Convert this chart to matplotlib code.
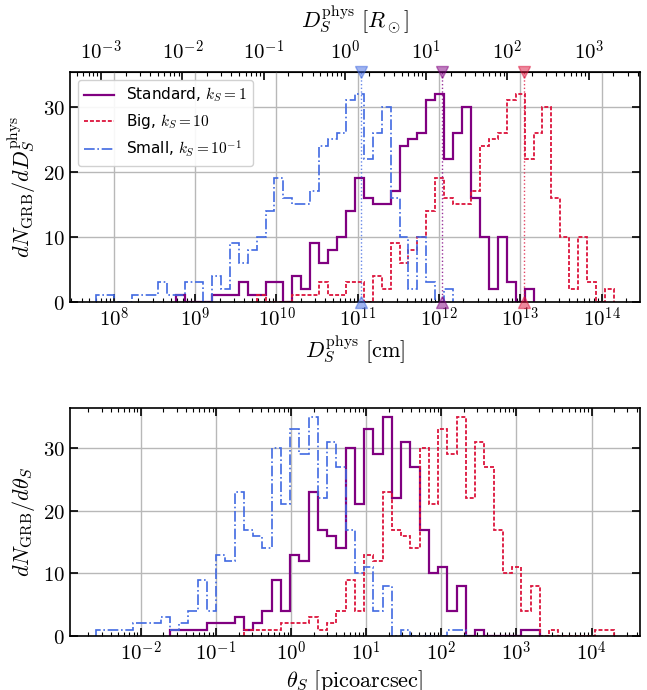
import numpy as np
import matplotlib
matplotlib.use("Agg")
import matplotlib.pyplot as plt
from matplotlib.ticker import FuncFormatter

plt.rcParams["mathtext.fontset"] = "cm"

R_SUN_CM = 6.957e10

# top panel: D_S^phys [cm], log-spaced bins (log10 edges)
D_LOG_MIN, D_LOG_MAX, D_NBINS = 7.777, 14.153, 58
# (first bin index, counts) per model
d_standard_start = 9
d_standard = [1, 0, 0, 0, 1, 1, 1, 3, 1, 1, 3, 3, 0, 4, 2, 9, 6, 8, 10, 14,
              19, 16, 15, 15, 17, 24, 25, 26, 31, 32, 22, 26, 30, 16, 10, 2, 10, 3, 0, 2]
d_big_start = 18
d_big = [1, 0, 0, 0, 1, 1, 1, 3, 1, 1, 3, 3, 0, 4, 2, 9, 6, 8, 10, 14,
         19, 16, 15, 15, 17, 24, 25, 26, 31, 32, 22, 26, 30, 16, 10, 2, 10, 3, 0, 2]
d_small_start = 0
d_small = [1, 1, 0, 0, 1, 1, 1, 3, 1, 1, 3, 3, 0, 4, 2, 9, 6, 8, 10, 14,
           19, 16, 15, 15, 17, 24, 25, 26, 31, 32, 22, 26, 30, 16, 10, 2, 10, 3, 0, 2]
# medians [cm]
d_medians = [1.1e12, 1.1e13, 1.1e11]

# bottom panel: theta_S [picoarcsec]
T_LOG_MIN, T_LOG_MAX, T_NBINS = -2.600, 4.298, 56
t_standard_start = 8
t_standard = [1, 1, 1, 1, 2, 2, 2, 3, 1, 2, 4, 9, 4, 13, 12, 23, 17, 16, 14, 30,
              21, 33, 29, 35, 22, 31, 27, 17, 10, 11, 4, 8, 0, 1, 0, 0, 0, 0, 1, 1]
t_big_start = 16
t_big = [1, 1, 1, 1, 2, 2, 2, 3, 1, 2, 4, 9, 4, 13, 12, 23, 17, 16, 14, 30,
         21, 33, 29, 35, 22, 31, 27, 17, 10, 11, 4, 8, 0, 1, 0, 0, 0, 0, 1, 1]
t_small_start = 0
t_small = [1, 1, 1, 1, 2, 2, 2, 3, 1, 2, 4, 9, 4, 13, 12, 23, 17, 16, 14, 30,
           21, 33, 29, 35, 22, 31, 27, 17, 10, 11, 4, 8, 0, 1, 0, 0, 0, 0, 1, 1]

labels = [r"Standard, $k_S = 1$", r"Big, $k_S = 10$", r"Small, $k_S = 10^{-1}$"]
colors = ["purple", "crimson", "royalblue"]
styles = [dict(ls="-", lw=1.6), dict(ls=(0, (2.2, 1.1)), lw=1.3), dict(ls="-.", lw=1.2)]

TICK_FS = 15
LABEL_FS = 16


def pow10(v, pos):
    return r"$10^{%d}$" % int(np.round(np.log10(v)))


def plain(v, pos):
    return r"$%d$" % int(round(v))


def log_margins(lo, hi, m=0.05):
    r = hi - lo
    return 10 ** (lo - m * r), 10 ** (hi + m * r)


def style_axis(ax, top=True):
    ax.tick_params(which="both", direction="in", right=True, top=top, labelsize=TICK_FS)
    ax.tick_params(which="major", length=6, width=1.2)
    ax.tick_params(which="minor", length=3, width=0.8)
    ax.tick_params(axis="y", which="minor", left=False, right=False)
    ax.xaxis.set_major_formatter(FuncFormatter(pow10))
    ax.yaxis.set_major_formatter(FuncFormatter(plain))
    for s in ax.spines.values():
        s.set_linewidth(1.2)
    ax.grid(True, which="major", color="#b8b8b8", lw=1.0)
    ax.set_axisbelow(True)


fig = plt.figure(figsize=(6.47, 6.9), dpi=100)
ax1 = fig.add_axes([0.108, 0.5625, 0.881, 0.333])
ax2 = fig.add_axes([0.108, 0.0783, 0.881, 0.3304])

# ---- top panel
d_edges = np.logspace(D_LOG_MIN, D_LOG_MAX, D_NBINS + 1)
ax1.set_xscale("log")
for (start, counts), c, st, lab in zip(
        [(d_standard_start, d_standard), (d_big_start, d_big), (d_small_start, d_small)],
        colors, styles, labels):
    ax1.stairs(counts, d_edges[start:start + len(counts) + 1], baseline=0,
               color=c, label=lab, **st)
ytop1 = 35.3
ax1.set_xlim(*log_margins(D_LOG_MIN, D_LOG_MAX))
ax1.set_ylim(0, ytop1)
for med, c in zip(d_medians, colors):
    ax1.axvline(med, color=c, ls=":", lw=1.0, alpha=0.8)
    ax1.plot([med], [ytop1], marker="v", ms=8, color=c, alpha=0.5, clip_on=False, zorder=5)
    ax1.plot([med], [0], marker="^", ms=8, color=c, alpha=0.5, clip_on=False, zorder=5)
ax1.set_yticks([0, 10, 20, 30])
style_axis(ax1, top=False)
ax1.set_xlabel(r"$D_S^{\rm phys}\ [{\rm cm}]$", fontsize=LABEL_FS, labelpad=2)
ax1.set_ylabel(r"$dN_{\rm GRB}/dD_S^{\rm phys}$", fontsize=LABEL_FS)
sec = ax1.secondary_xaxis("top", functions=(lambda x: x / R_SUN_CM, lambda x: x * R_SUN_CM))
sec.tick_params(which="both", direction="in", labelsize=TICK_FS, pad=6)
sec.tick_params(which="major", length=6, width=1.2)
sec.tick_params(which="minor", length=3, width=0.8)
sec.xaxis.set_major_formatter(FuncFormatter(pow10))
sec.set_xlabel(r"$D_S^{\rm phys}\ [R_\odot]$", fontsize=LABEL_FS, labelpad=9)
leg = ax1.legend(loc="upper left", fontsize=11, handlelength=2.0, framealpha=0.9)

# ---- bottom panel
t_edges = np.logspace(T_LOG_MIN, T_LOG_MAX, T_NBINS + 1)
ax2.set_xscale("log")
for (start, counts), c, st in zip(
        [(t_standard_start, t_standard), (t_big_start, t_big), (t_small_start, t_small)],
        colors, styles):
    ax2.stairs(counts, t_edges[start:start + len(counts) + 1], baseline=0, color=c, **st)
ax2.set_xlim(*log_margins(T_LOG_MIN, T_LOG_MAX))
ax2.set_ylim(0, 36.4)
ax2.set_yticks([0, 10, 20, 30])
style_axis(ax2, top=True)
ax2.set_xlabel(r"$\theta_S\ [{\rm picoarcsec}]$", fontsize=LABEL_FS, labelpad=2)
ax2.set_ylabel(r"$dN_{\rm GRB}/d\theta_S$", fontsize=LABEL_FS)

fig.savefig("out.png", dpi=100)
